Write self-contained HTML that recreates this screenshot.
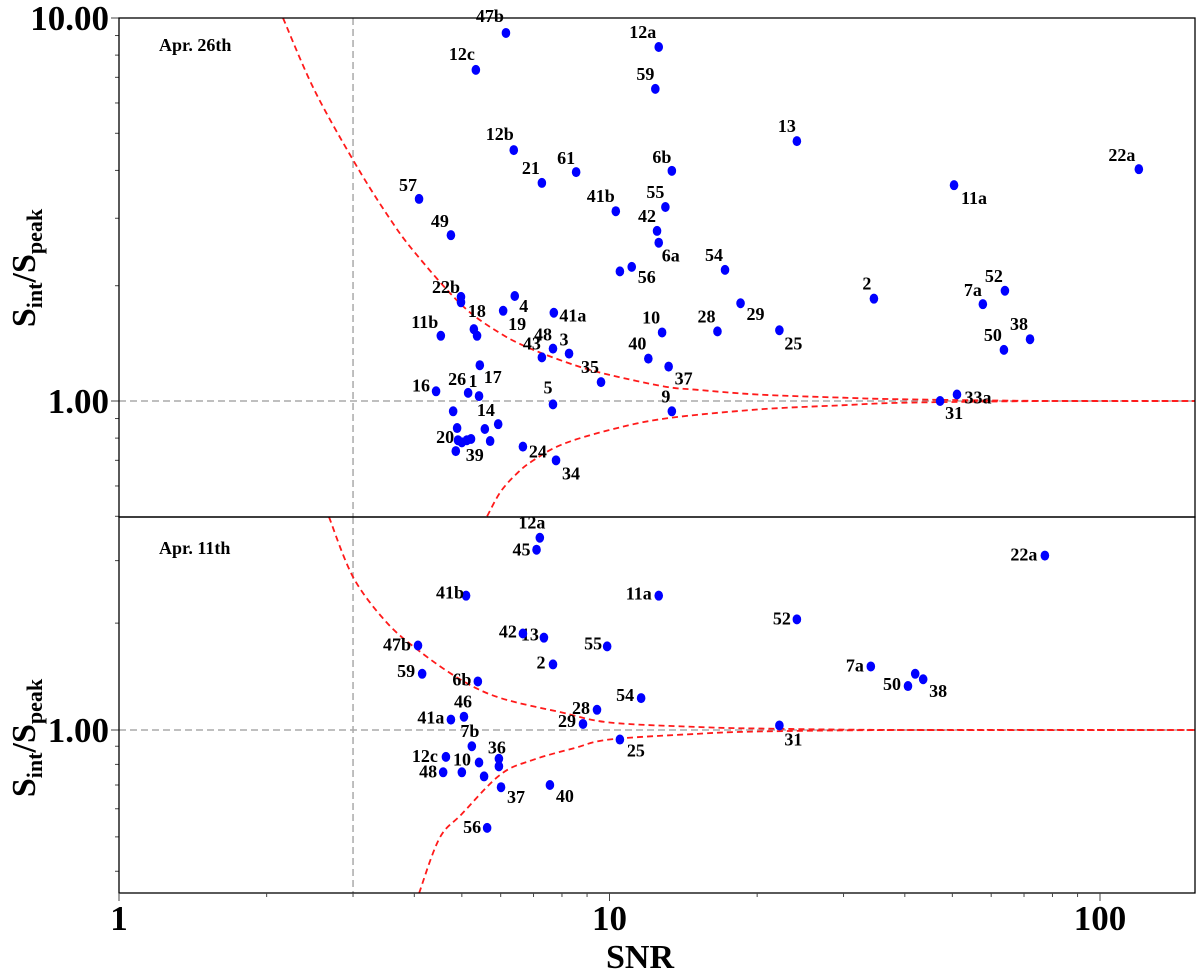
<!DOCTYPE html>
<html><head><meta charset="utf-8">
<style>
html,body{margin:0;padding:0;background:#fff;}
svg{display:block;font-family:"Liberation Serif",serif;font-weight:bold;}
</style></head>
<body>
<svg id="chart" width="1200" height="974" viewBox="0 0 1200 974" xmlns="http://www.w3.org/2000/svg"></svg>
<script>
// ---- data ----
const xTicks = [1, 10, 100];
const xTickLabels = ["1", "10", "100"];
const topYTicks = [1, 10];
const topYTickLabels = ["1.00", "10.00"];
const botYTicks = [1];
const botYTickLabels = ["1.00"];

const topSNR = [6.15,12.6,5.34,12.4,24.1,6.38,120,13.4,8.55,7.28,50.4,4.09,13.0,10.3,12.5,4.75,12.6,11.1,10.5,17.2,34.6,64.0,57.7,4.98,4.98,6.41,18.5,6.07,7.70,12.8,16.6,22.2,5.29,5.37,4.53,72.0,63.7,7.67,8.27,7.28,12.0,13.2,5.44,9.61,4.43,5.15,5.42,47.2,51.1,7.67,13.4,4.80,5.57,4.89,4.86,4.91,5.00,5.12,5.22,5.71,5.93,6.66,7.78];
const topRatio = [9.14,8.40,7.32,6.53,4.77,4.52,4.03,3.99,3.96,3.71,3.66,3.37,3.21,3.13,2.78,2.71,2.59,2.24,2.18,2.20,1.85,1.94,1.79,1.87,1.81,1.88,1.80,1.72,1.70,1.51,1.52,1.53,1.54,1.48,1.48,1.45,1.36,1.37,1.33,1.30,1.29,1.23,1.24,1.12,1.06,1.05,1.03,1.00,1.04,0.98,0.94,0.94,0.845,0.85,0.74,0.79,0.78,0.79,0.796,0.786,0.87,0.76,0.70];
const topLabels = ["47b","12a","12c","59","13","12b","22a","6b","61","21","11a","57","55","41b","42","49","6a","56","","54","2","52","7a","22b","","4","29","19","41a","10","28","25","18","","11b","38","50","48","3","43","40","37","17","35","16","26","1","31","33a","5","9","","14","20","39","","","","","","","24","34"];

const botSNR = [7.21,7.10,77.2,5.10,12.6,24.1,7.35,6.66,4.07,9.89,7.67,34.1,4.15,43.6,42.0,40.6,5.39,11.6,9.43,5.05,4.75,8.83,22.2,10.5,5.24,4.64,5.42,5.95,5.95,4.58,5.00,5.55,6.01,7.56,5.63];
const botRatio = [3.48,3.22,3.10,2.39,2.39,2.05,1.82,1.87,1.73,1.72,1.53,1.51,1.44,1.39,1.44,1.33,1.37,1.23,1.14,1.09,1.07,1.04,1.03,0.94,0.90,0.84,0.81,0.83,0.79,0.76,0.76,0.74,0.69,0.70,0.53];
const botLabels = ["12a","45","22a","41b","11a","52","13","42","47b","55","2","7a","59","38","","50","6b","54","28","46","41a","29","31","25","7b","12c","10","36","","48","","","37","40","56"];

// model envelope curves
const topUpSNR = [2.16,2.5,3,3.5,4,5,6,7,8.5,10,13,15,20,30,40,80,160];
const topUpVal = [10,6.5,4.26,3.1,2.45,1.78,1.5,1.36,1.24,1.17,1.09,1.07,1.04,1.02,1.01,1.0,1.0];
const topLoSNR = [5.63,6,6.5,7,8,10,13,20,30,40,80,160];
const topLoVal = [0.5,0.58,0.65,0.70,0.77,0.84,0.90,0.95,0.975,0.99,1.0,1.0];
const botUpSNR = [2.68,3,3.5,4.09,5,6,8,10,15,20,40,160];
const botUpVal = [3.98,2.70,2.02,1.67,1.38,1.23,1.12,1.05,1.02,1.01,1.0,1.0];
const botLoSNR = [4.09,4.5,5,6,7,8.5,10,15,20,40,160];
const botLoVal = [0.347,0.495,0.58,0.75,0.825,0.89,0.94,0.975,0.99,1.0,1.0];

// ---- layout ----
const topDX = [-16,-16,-14,-10,-10,-14,-17,-10,-10,-11,20,-11,-10,-15,-10,-11,12,15,0,-11,-7,-11,-10,-15,0,9,15,14,19,-11,-11,14,3,0,-16,-11,-11,-10,-5,-10,-11,15,13,-11,-15,-11,-6,14,21,-5,-6,0,1,-12,19,0,0,0,0,0,0,15,15];
const topDY = [-17,-15,-16,-15,-15,-16,-14,-14,-14,-15,13,-14,-15,-15,-15,-14,13,10,0,-15,-15,-15,-14,-10,0,10,11,13,3,-15,-15,13,-18,0,-14,-15,-15,-14,-14,-14,-15,12,12,-15,-6,-14,-15,12,3,-17,-15,0,-19,9,4,0,0,0,0,0,0,5,13];
const botDX = [-8,-15,-21,-16,-20,-15,-14,-15,-21,-14,-12,-16,-16,15,0,-16,-16,-16,-16,-1,-20,-16,14,16,-2,-21,-17,-2,0,-15,0,0,15,15,-15];
const botDY = [-15,0,-1,-3,-2,-1,-3,-2,-1,-3,-2,-1,-3,12,0,-2,-2,-3,-2,-15,-2,-3,14,11,-15,-1,-3,-11,0,-1,0,0,10,11,-1];

const L = 119, R = 1195, T1 = 18, B1 = 517, T2 = 517, B2 = 893;
const XDEC = 490.5;
const xS = v => L + Math.log10(v) * XDEC;
const yTop = v => 401 - Math.log10(v) * 383;
const yBot = v => 730 - Math.log10(v) * 355;

const svg = document.getElementById('chart');
const NS = 'http://www.w3.org/2000/svg';
function mk(tag, attrs, parent) {
  const e = document.createElementNS(NS, tag);
  for (const k in attrs) e.setAttribute(k, attrs[k]);
  (parent || svg).appendChild(e);
  return e;
}
function smoothPath(pts) {
  let d = 'M' + pts[0][0].toFixed(1) + ',' + pts[0][1].toFixed(1);
  for (let i = 0; i < pts.length - 1; i++) {
    const p0 = pts[Math.max(0, i - 1)], p1 = pts[i], p2 = pts[i + 1], p3 = pts[Math.min(pts.length - 1, i + 2)];
    const c1x = p1[0] + (p2[0] - p0[0]) / 6, c1y = p1[1] + (p2[1] - p0[1]) / 6;
    const c2x = p2[0] - (p3[0] - p1[0]) / 6, c2y = p2[1] - (p3[1] - p1[1]) / 6;
    d += ' C' + c1x.toFixed(1) + ',' + c1y.toFixed(1) + ' ' + c2x.toFixed(1) + ',' + c2y.toFixed(1) + ' ' + p2[0].toFixed(1) + ',' + p2[1].toFixed(1);
  }
  return d;
}

const defs = mk('defs', {});
const c1 = mk('clipPath', {id: 'clipTop'}, defs); mk('rect', {x: L, y: T1, width: R - L, height: B1 - T1}, c1);
const c2 = mk('clipPath', {id: 'clipBot'}, defs); mk('rect', {x: L, y: T2, width: R - L, height: B2 - T2}, c2);

function panel(name, yS, top, bot, snr, ratio, labels, dx, dy, upS, upV, loS, loV, yt, ytl, ymin, ymax, clip, tag) {
  const g = mk('g', {});
  
  
  const vl = mk('line', {x1: xS(3), x2: xS(3), y1: top, y2: bot, stroke: '#aaa', 'stroke-width': 1.5, 'stroke-dasharray': '7,4'}, g);
  
  
  const hl = mk('line', {x1: L, x2: R, y1: yS(1), y2: yS(1), stroke: '#aaa', 'stroke-width': 1.5, 'stroke-dasharray': '7,4'}, g);
  
  
  [[upS, upV, 'upper-envelope-curve'], [loS, loV, 'lower-envelope-curve']].forEach(([s, v, n]) => {
    const pts = s.map((x, i) => [xS(x), yS(v[i])]);
    const p = mk('path', {d: smoothPath(pts), fill: 'none', stroke: '#ff1a1a', 'stroke-width': 1.8, 'stroke-dasharray': '6,4', 'clip-path': 'url(#' + clip + ')'}, g);
    
    
  });
  snr.forEach((x, i) => {
    const px = xS(x), py = yS(ratio[i]);
    const c = mk('ellipse', {cx: px, cy: py, rx: 4.3, ry: 5, fill: '#0000ff'}, g);
    
    
    if (labels[i]) {
      const t = mk('text', {x: px + dx[i], y: py + dy[i], 'text-anchor': 'middle', 'dominant-baseline': 'central', 'font-size': 18}, g);
      t.textContent = labels[i];
      
      
    }
  });
  for (let dec = -1; dec <= 1; dec++) {
    for (let m = 1; m <= 9; m++) {
      const v = m * Math.pow(10, dec);
      if (v < ymin || v > ymax) continue;
      const major = m === 1;
      const tk = mk('line', {x1: L - (major ? 8 : 4), x2: L, y1: yS(v), y2: yS(v), stroke: '#444', 'stroke-width': 1}, g);
      
      
    }
  }
  yt.forEach((v, i) => {
    const t = mk('text', {x: L - 10, y: yS(v) + 12, 'text-anchor': 'end', 'font-size': 35}, g);
    t.textContent = ytl[i];
    
    
  });
}

panel('top-panel-apr-26', yTop, T1, B1, topSNR, topRatio, topLabels, topDX, topDY, topUpSNR, topUpVal, topLoSNR, topLoVal, topYTicks, topYTickLabels, 0.5, 10, 'clipTop', 'apr26');
panel('bottom-panel-apr-11', yBot, T2, B2, botSNR, botRatio, botLabels, botDX, botDY, botUpSNR, botUpVal, botLoSNR, botLoVal, botYTicks, botYTickLabels, 0.347, 3.98, 'clipBot', 'apr11');

const f1 = mk('rect', {x: L, y: T1, width: R - L, height: B1 - T1, fill: 'none', stroke: '#000', 'stroke-width': 1.3});


const f2 = mk('rect', {x: L, y: T2, width: R - L, height: B2 - T2, fill: 'none', stroke: '#000', 'stroke-width': 1.3});



for (let dec = 0; dec <= 2; dec++) {
  for (let m = 1; m <= 9; m++) {
    const v = m * Math.pow(10, dec);
    if (xS(v) > R) continue;
    const major = m === 1;
    const tk = mk('line', {x1: xS(v), x2: xS(v), y1: B2, y2: B2 + (major ? 8 : 4), stroke: '#444', 'stroke-width': 1});
    
    
  }
}
xTicks.forEach((v, i) => {
  const t = mk('text', {x: xS(v), y: 930, 'text-anchor': 'middle', 'font-size': 35});
  t.textContent = xTickLabels[i];
  
  
});
const xt = mk('text', {x: 640, y: 968, 'text-anchor': 'middle', 'font-size': 34});
xt.textContent = 'SNR';



[['Apr. 26th', 45, 'top-panel-date-label'], ['Apr. 11th', 548, 'bottom-panel-date-label']].forEach(([s, y, n]) => {
  const t = mk('text', {x: 159, y: y + 6, 'font-size': 18});
  t.textContent = s;
  
  
});

[[268, 'top-y-axis-title'], [738, 'bottom-y-axis-title']].forEach(([cy, n]) => {
  const t = mk('text', {x: 0, y: 0, 'text-anchor': 'middle', 'font-size': 34, transform: 'translate(35,' + cy + ') rotate(-90)'});
  
  
  const a = mk('tspan', {}, t); a.textContent = 'S';
  const b = mk('tspan', {dy: 7, 'font-size': 22}, t); b.textContent = 'int';
  const c = mk('tspan', {dy: -7}, t); c.textContent = '/S';
  const d = mk('tspan', {dy: 7, 'font-size': 22}, t); d.textContent = 'peak';
});
</script>
</body></html>
